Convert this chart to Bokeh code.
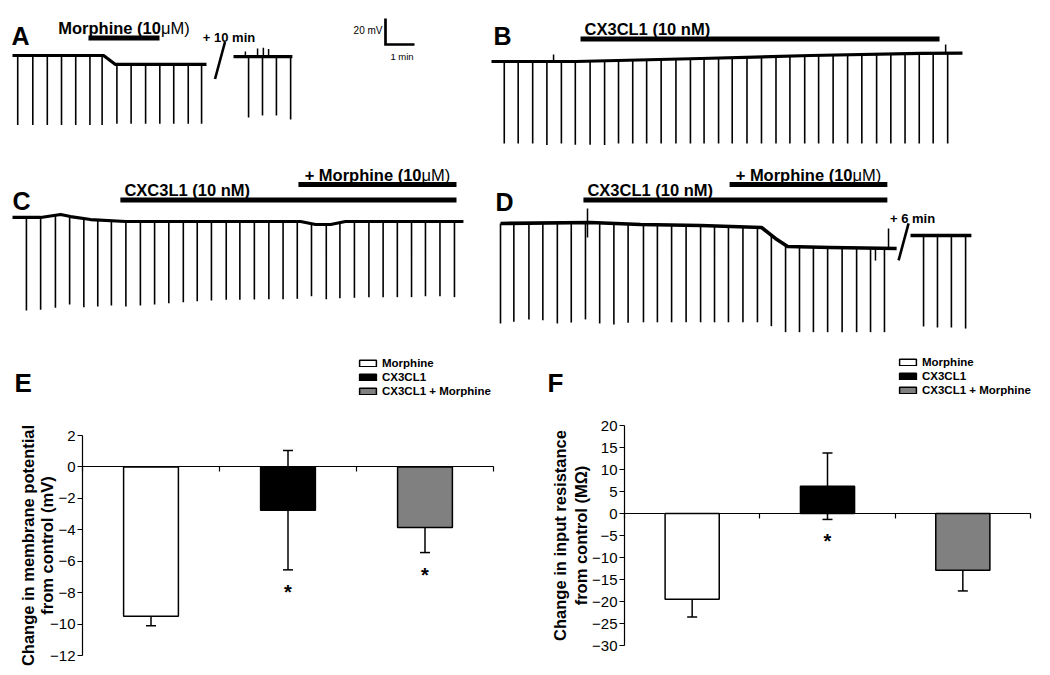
import numpy as np
from math import pi
from bokeh.plotting import figure
from bokeh.models import (Range1d, Label, LinearAxis, FixedTicker, Whisker, TeeHead,
                          ColumnDataSource, Legend, LegendItem)
from bokeh.layouts import row, column
from bokeh.embed import file_html
from bokeh.resources import INLINE
from bokeh.core.properties import value

FONT = "Liberation Sans"
PX_PER_MIN = 29.0   # horizontal scale of the traces (1 min scale bar)
PX_PER_MV = 1.3     # vertical scale of the traces (20 mV scale bar)

# ------------------------------------------------------------------ DATA
# Traces: time in min from the start of each sweep, potential in mV relative to start
# Panel A (morphine)
a_base_t = [0.0, 3.14, 3.55, 6.69]
a_base_v = [0.0, 0.0, -6.9, -6.9]
a_spike_t = [0.18, 0.70, 1.20, 1.69, 2.18, 2.67, 3.09, 3.60, 4.09, 4.59, 5.08, 5.56, 6.06, 6.52]
a_spike_v = [-53.5, -53.5, -53.5, -53.5, -53.5, -53.5, -53.5, -52.5, -52.5, -52.5, -52.5, -52.5, -52.5, -52.5]
a2_base_t = [0.0, 2.03]
a2_base_v = [-0.8, -0.8]
a2_spike_t = [0.52, 1.00, 1.48, 1.97]
a2_spike_v = [-47.7, -46.2, -46.2, -49.2]
a2_blip_t = [0.41, 0.83, 1.03, 1.21]
a2_blip_v = [3.0, 5.4, 6.0, 5.0]
a_drug_name = ["Morphine (10\u03bcM)"]
a_drug_on = [2.62]
a_drug_off = [5.07]
a_gap_label = "+ 10 min"

# Panel B (CX3CL1)
b_base_t = [0.0, 2.90, 7.21, 11.0, 14.79, 16.24]
b_base_v = [0.0, 0.0, 2.3, 4.6, 6.2, 6.5]
b_spike_t = [0.44, 0.92, 1.42, 1.91, 2.41, 2.89, 3.40, 3.90, 4.38, 4.87, 5.35, 5.85, 6.36, 6.86,
             7.33, 7.83, 8.30, 8.81, 9.31, 9.81, 10.29, 10.80, 11.28, 11.78, 12.28, 12.77, 13.28,
             13.77, 14.26, 14.75, 15.23, 15.73]
b_spike_v = [-63, -63, -63, -66, -63, -64, -64, -68, -63, -63, -63, -63, -63, -63, -63, -63,
             -63, -63, -63, -63, -63, -63, -63, -63, -63, -63, -63, -63, -63, -63, -63, -63]
b_blip_t = [2.14, 15.66]
b_blip_v = [5.4, 13.0]
b_drug_name = ["CX3CL1 (10 nM)"]
b_drug_on = [3.07]
b_drug_off = [15.45]

# Panel C (CX3CL1 then + morphine)
c_base_t = [0.0, 0.97, 1.66, 2.00, 2.69, 3.90, 9.93, 10.45, 10.97, 11.48, 15.55]
c_base_v = [0.8, 0.8, 3.1, 1.5, -0.8, -2.3, -2.3, -4.6, -4.6, -2.3, -2.3]
c_spike_t = [0.48, 0.97, 1.48, 1.97, 2.46, 2.94, 3.41, 3.91, 4.41, 4.90, 5.39, 5.89, 6.37, 6.86,
             7.37, 7.84, 8.34, 8.84, 9.33, 9.82, 10.31, 10.82, 11.29, 11.79, 12.29, 12.78, 13.27,
             13.76, 14.24, 14.74, 15.24]
c_spike_v = [-70.8, -70.2, -68.7, -66.2, -68.2, -67.7, -66.9, -67.7, -66.9, -66.2, -65.2, -64.4,
             -63.6, -63.1, -62.5, -62.5, -62.3, -62.1, -62.1, -61.8, -59.8, -62.1, -61.3, -61.0,
             -60.5, -60.5, -60.5, -60.5, -59.8, -59.8, -60.5]
c_drug_name = ["CXC3L1 (10 nM)", "+ Morphine (10\u03bcM)"]
c_drug_on = [3.72, 9.86]
c_drug_off = [15.31, 15.31]

# Panel D (CX3CL1 then + morphine)
d_base_t = [0.0, 3.10, 4.83, 6.90, 9.00, 9.48, 9.90, 11.38, 13.66]
d_base_v = [0.0, 0.8, -0.8, -1.5, -3.1, -11.5, -17.7, -18.5, -19.2]
d_spike_t = [0.00, 0.46, 0.98, 1.46, 1.96, 2.44, 2.93, 3.42, 3.91, 4.40, 4.93, 5.41, 5.90, 6.40,
             6.90, 7.38, 7.86, 8.36, 8.86, 9.34, 9.83, 10.31, 10.79, 11.28, 11.78, 12.28, 12.76, 13.24]
d_spike_v = [-76.9, -75.6, -73.8, -74.4, -76.9, -76.2, -73.8, -76.9, -77.7, -76.4, -76.0, -76.0,
             -76.0, -76.0, -76.0, -76.0, -76.0, -76.0, -76.0, -79.0, -83.6, -83.6, -83.6, -83.6,
             -83.6, -83.6, -83.6, -83.6]
d_art_t = [3.00, 12.93, 13.38]
d_art_hi = [11.5, -19.0, -3.8]
d_art_lo = [-10.8, -28.5, -19.2]
d2_base_t = [0.0, 2.10]
d2_base_v = [-9.2, -9.2]
d2_spike_t = [0.45, 0.93, 1.41, 1.90]
d2_spike_v = [-79.2, -80.0, -80.0, -80.8]
d_drug_name = ["CX3CL1 (10 nM)", "+ Morphine (10\u03bcM)"]
d_drug_on = [2.86, 7.90]
d_drug_off = [13.34, 13.34]
d_gap_label = "+ 6 min"

scale_mv = 20
scale_min = 1

# Summary bars
cats = ["Morphine", "CX3CL1", "CX3CL1 + Morphine"]
bar_colors = ["white", "black", "#808080"]
vm_mean = [-9.5, -2.75, -3.85]
vm_sem = [0.6, 3.8, 1.6]
vm_sig = [False, True, True]
vm_ticks = [2, 0, -2, -4, -6, -8, -10, -12]
rin_mean = [-19.5, 6.2, -12.9]
rin_sem = [4.05, 7.55, 4.7]
rin_sig = [False, True, False]
rin_ticks = [20, 15, 10, 5, 0, -5, -10, -15, -20, -25, -30]

# ------------------------------------------------------------------ LAYOUT (page px)
ROW1_T, ROW1_H = 0, 145
ROW2_T, ROW2_H = 145, 195
ROW3_T, ROW3_H = 340, 332
LEFT_W, RIGHT_W = 488, 560
LEFT_W3, RIGHT_W3 = 510, 538
LABEL_SIZE = 16.5

# Arial/Liberation advance widths (1/1000 em) used to join bold and regular runs
BOLD_W = {" ": 278, "(": 333, ")": 333, "+": 584, "0": 556, "1": 556, "M": 833, "o": 611,
          "r": 389, "p": 611, "h": 611, "i": 278, "n": 611, "e": 556}
REG_W = {"\u03bc": 576, "M": 833, ")": 333}


def run_width(s, table, size):
    return sum(table.get(ch, 556) for ch in s) / 1000.0 * size


def screen_label(p, frame, px, py, text, size, style="bold", align="left", baseline="alphabetic", angle=0):
    xl, yt, xr, yb = frame
    p.add_layout(Label(x=px - xl, y=yb - py, x_units="screen", y_units="screen", text=text,
                       text_font=FONT, text_font_size=size, text_font_style=style,
                       text_align=align, text_baseline=baseline, angle=angle, text_color="black"))


def bare_fig(left, top, width, height, x_range, y_range):
    p = figure(width=width, height=height, output_backend="svg", toolbar_location=None,
               x_range=x_range, y_range=y_range, x_axis_type=None, y_axis_type=None,
               min_border=0, min_border_left=0, min_border_right=0, min_border_top=0,
               min_border_bottom=0, outline_line_color=None,
               background_fill_color="white", border_fill_color="white")
    return p, (left, top, left + width, top + height)


def trace_fig(left, top, width, height, t0_px, v0_px):
    xr = Range1d((left - t0_px) / PX_PER_MIN, (left + width - t0_px) / PX_PER_MIN)
    yr = Range1d((v0_px - (top + height)) / PX_PER_MV, (v0_px - top) / PX_PER_MV)
    return bare_fig(left, top, width, height, xr, yr)


def draw_sweep(p, base_t, base_v, spike_t, spike_v, offset=0.0, lw=3.2):
    bt = np.asarray(base_t, dtype=float)
    bv = np.asarray(base_v, dtype=float)
    st = np.asarray(spike_t, dtype=float)
    y0 = np.interp(st, bt, bv)
    p.segment(x0=st + offset, y0=y0, x1=st + offset, y1=spike_v, line_color="black", line_width=1.6)
    p.line(bt + offset, bv, line_color="black", line_width=lw, line_join="round")


def draw_blips(p, base_t, base_v, t, v, offset=0.0):
    t = np.asarray(t, dtype=float)
    y0 = np.interp(t, base_t, base_v)
    p.segment(x0=t + offset, y0=y0, x1=t + offset, y1=v, line_color="black", line_width=1.5)


def drug_text(p, x, y, name, align):
    """Bold drug name; the micro-unit part ("\u03bcM)") is set in regular weight."""
    size = LABEL_SIZE
    k = name.find("\u03bc")
    bold, reg = (name, "") if k < 0 else (name[:k], name[k:])
    wb = run_width(bold, BOLD_W, size)
    wr = run_width(reg, REG_W, size)
    x0 = -(wb + wr) / 2 if align == "center" else 4
    common = dict(text_align="left", text_baseline="alphabetic", y_offset=-10,
                  text_font=value(FONT), text_font_size="%gpx" % size, text_color="black")
    p.text(x=[x], y=[y], text=[bold], x_offset=x0, text_font_style="bold", **common)
    if reg:
        p.text(x=[x], y=[y], text=[reg], x_offset=x0 + wb, text_font_style="normal", **common)


def draw_drugs(p, names, on, off, bar_y, aligns):
    for name, t0, t1, y, al in zip(names, on, off, bar_y, aligns):
        p.segment(x0=[t0], y0=[y], x1=[t1], y1=[y], line_color="black", line_width=5, line_cap="butt")
        drug_text(p, (t0 + t1) / 2 if al == "center" else t0, y, name, al)


def gap_mark(p, t_end, v_end, t_start2, v_start2, label):
    cx = (t_end + t_start2) / 2
    cy = (v_end + v_start2) / 2
    dx = 5 / PX_PER_MIN
    dy = 18.5 / PX_PER_MV
    p.segment(x0=[cx + dx], y0=[cy + dy], x1=[cx - dx], y1=[cy - dy], line_color="black", line_width=2.6)
    p.text(x=[cx + dx], y=[cy + dy], text=[label], text_align="center", text_baseline="alphabetic",
           x_offset=4, y_offset=-5, text_font=value(FONT), text_font_style="bold",
           text_font_size="13px", text_color="black")


# ---------------- Panel A
pA, frA = trace_fig(0, ROW1_T, LEFT_W, ROW1_H, 12, 55)
A_GAP_OFFSET = (233 - 12) / PX_PER_MIN
draw_sweep(pA, a_base_t, a_base_v, a_spike_t, a_spike_v)
draw_sweep(pA, a2_base_t, a2_base_v, a2_spike_t, a2_spike_v, offset=A_GAP_OFFSET)
draw_blips(pA, a2_base_t, a2_base_v, a2_blip_t, a2_blip_v, offset=A_GAP_OFFSET)
draw_drugs(pA, a_drug_name, a_drug_on, a_drug_off, [(55 - 37.5) / PX_PER_MV], ["center"])
gap_mark(pA, a_base_t[-1], a_base_v[-1], A_GAP_OFFSET + a2_base_t[0], a2_base_v[0], a_gap_label)
screen_label(pA, frA, 11, 35, "A", "25px")
# scale bar
sb_x = (385 - 12) / PX_PER_MIN
sb_y = (55 - 44) / PX_PER_MV
pA.line(x=[sb_x + scale_min, sb_x, sb_x], y=[sb_y, sb_y, sb_y + scale_mv], line_color="black",
        line_width=2.7, line_join="miter")
pA.text(x=[sb_x], y=[sb_y + scale_mv / 2], text=["%d mV" % scale_mv], text_align="right",
        text_baseline="middle", x_offset=-3, y_offset=-1, text_font=value(FONT),
        text_font_size="10px", text_color="black")
pA.text(x=[sb_x + scale_min / 2], y=[sb_y], text=["%d min" % scale_min], text_align="center",
        text_baseline="top", x_offset=2, y_offset=6, text_font=value(FONT),
        text_font_size="9.5px", text_color="black")

# ---------------- Panel B
pB, frB = trace_fig(LEFT_W, ROW1_T, RIGHT_W, ROW1_H, 491, 61)
draw_sweep(pB, b_base_t, b_base_v, b_spike_t, b_spike_v)
draw_blips(pB, b_base_t, b_base_v, b_blip_t, b_blip_v)
draw_drugs(pB, b_drug_name, b_drug_on, b_drug_off, [(61 - 38.5) / PX_PER_MV], ["left"])
screen_label(pB, frB, 493, 35, "B", "25px")

# ---------------- Panel C
pC, frC = trace_fig(0, ROW2_T, LEFT_W, ROW2_H, 12, 218)
draw_sweep(pC, c_base_t, c_base_v, c_spike_t, c_spike_v)
draw_drugs(pC, c_drug_name, c_drug_on, c_drug_off,
           [(218 - 199.5) / PX_PER_MV, (218 - 184) / PX_PER_MV], ["left", "center"])
screen_label(pC, frC, 12, 200, "C", "25px")

# ---------------- Panel D
pD, frD = trace_fig(LEFT_W, ROW2_T, RIGHT_W, ROW2_H, 500, 223)
D_GAP_OFFSET = (910 - 500) / PX_PER_MIN
draw_sweep(pD, d_base_t, d_base_v, d_spike_t, d_spike_v, lw=3.6)
draw_sweep(pD, d2_base_t, d2_base_v, d2_spike_t, d2_spike_v, offset=D_GAP_OFFSET, lw=3.6)
pD.segment(x0=d_art_t, y0=d_art_lo, x1=d_art_t, y1=d_art_hi, line_color="black", line_width=1.5)
draw_drugs(pD, d_drug_name, d_drug_on, d_drug_off,
           [(223 - 199.5) / PX_PER_MV, (223 - 184) / PX_PER_MV], ["left", "center"])
gap_mark(pD, d_base_t[-1], d_base_v[-1], D_GAP_OFFSET + d2_base_t[0], d2_base_v[0], d_gap_label)
screen_label(pD, frD, 495, 201, "D", "25px")


# ---------------- Bar panels (axes drawn at fixed locations inside a full-size frame)
def bar_panel(fig_left, fig_width, plot_box, y_lo, y_hi, ticks, means, sems, sig,
              ylabel1, ylabel2, ylab_x1, ylab_x2, letter, letter_x, legend_left, legend_top):
    xl, yt, xr, yb = plot_box          # page px of the axes' extent
    n = len(cats)
    ux = (xr - xl) / n                 # px per category
    uy = (yb - yt) / (y_hi - y_lo)     # px per unit
    fig_top, fig_bot = ROW3_T, ROW3_T + ROW3_H
    x_range = Range1d(0 - (xl - fig_left) / ux, n + (fig_left + fig_width - xr) / ux)
    y_range = Range1d(y_lo - (fig_bot - yb) / uy, y_hi + (yt - fig_top) / uy)
    p, frame = bare_fig(fig_left, fig_top, fig_width, ROW3_H, x_range, y_range)

    yax = LinearAxis(fixed_location=0, bounds=(y_lo, y_hi), ticker=FixedTicker(ticks=ticks),
                     major_tick_out=5, major_tick_in=0, minor_tick_out=0, minor_tick_in=0,
                     axis_line_color="black", axis_line_width=1.2, major_tick_line_width=1.2,
                     major_label_standoff=2, major_label_text_font=FONT,
                     major_label_text_font_size="15px", major_label_text_color="black")
    p.add_layout(yax, "left")
    xax = LinearAxis(fixed_location=0, bounds=(0, n), ticker=FixedTicker(ticks=list(range(n + 1))),
                     major_tick_out=5, major_tick_in=0, minor_tick_out=0, minor_tick_in=0,
                     axis_line_color="black", axis_line_width=1.2, major_tick_line_width=1.2,
                     major_label_text_font_size="0px", major_label_text_alpha=0)
    p.add_layout(xax, "below")

    xs = np.arange(n) + 0.5
    src = ColumnDataSource(dict(x=xs, top=means, color=bar_colors, cat=cats,
                                upper=np.array(means) + np.array(sems),
                                lower=np.array(means) - np.array(sems)))
    r = p.vbar(x="x", top="top", bottom=0, width=0.4, fill_color="color", line_color="black",
               line_width=1.5, source=src)
    p.add_layout(Whisker(source=src, base="x", upper="upper", lower="lower", line_color="black",
                         line_width=1.5,
                         upper_head=TeeHead(size=10, line_width=1.5, line_color="black"),
                         lower_head=TeeHead(size=10, line_width=1.5, line_color="black")))
    sx = [x for x, s in zip(xs, sig) if s]
    sy = [m - e for m, e, s in zip(means, sems, sig) if s]
    p.text(x=sx, y=sy, text=["*"] * len(sx), text_align="center", text_baseline="middle",
           y_offset=22, text_font=value(FONT), text_font_style="bold", text_font_size="20px",
           text_color="black")

    items = [LegendItem(label=c, renderers=[r], index=i) for i, c in enumerate(cats)]
    H = 3 * 12.8 + 2 * 2
    fl, ft, fr, fb = frame
    leg = Legend(items=items, location=(legend_left - fl, fb - legend_top - H),
                 glyph_width=21, glyph_height=8, label_height=10, spacing=2, padding=0, margin=0,
                 label_standoff=4, border_line_color=None, background_fill_alpha=0,
                 label_text_font=FONT, label_text_font_style="bold", label_text_font_size="11.5px",
                 label_text_color="black")
    p.add_layout(leg, "center")

    ymid = (yt + yb) / 2
    screen_label(p, frame, ylab_x1, ymid, ylabel1, "16.5px", align="center", baseline="middle", angle=pi / 2)
    screen_label(p, frame, ylab_x2, ymid, ylabel2, "16.5px", align="center", baseline="middle", angle=pi / 2)
    screen_label(p, frame, letter_x, 382, letter, "26px")
    return p


pE = bar_panel(0, LEFT_W3, (82, 435, 493, 655), -12, 2, vm_ticks, vm_mean, vm_sem, vm_sig,
               "Change in membrane potential", "from control (mV)", 27.5, 46.5, "E", 14, 357, 355)
pF = bar_panel(LEFT_W3, RIGHT_W3, (624, 425, 1030, 645), -30, 20, rin_ticks, rin_mean, rin_sem,
               rin_sig, "Change in input resistance", "from control (M\u03a9)", 559.5, 580, "F", 547, 897, 354)

layout = column(row(pA, pB), row(pC, pD), row(pE, pF))
open("out.html", "w").write(file_html(layout, INLINE))
